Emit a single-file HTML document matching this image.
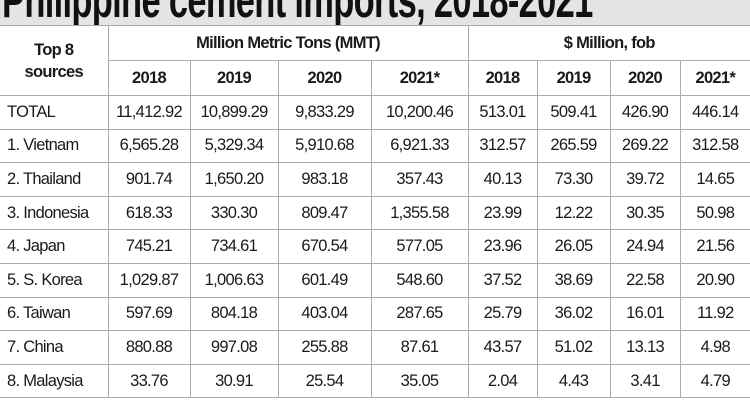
<!DOCTYPE html>
<html><head><meta charset="utf-8"><style>
body{margin:0;width:750px;height:410px;overflow:hidden;background:#fff;font-family:"Liberation Sans",sans-serif;color:#1a1a1a;position:relative}
.title{position:absolute;left:0;top:0;width:750px;height:25px;background:#e4e4e4;overflow:hidden;border-bottom:1px solid #999}
.title span{position:absolute;left:2px;top:-29px;font-size:50px;font-weight:bold;white-space:nowrap;color:#111;transform:scaleX(0.69);transform-origin:0 0;letter-spacing:-1px}
table{position:absolute;left:0;top:25px;border-collapse:collapse;table-layout:fixed;width:750px}
td{border:1px solid #aaa;text-align:center;font-size:16.5px;padding:0;height:32.6px;letter-spacing:-0.7px;white-space:nowrap}
tr.h td{font-weight:bold;height:34px;font-size:16.5px}
td.l{text-align:left;padding-left:7px}
table tr td:first-child{border-left:none}
table tr td:last-child{border-right:none}
</style></head><body>
<div class="title"><span>Philippine cement imports, 2018-2021</span></div>
<table>
<colgroup><col style="width:108px"><col style="width:82px"><col style="width:88px"><col style="width:93px"><col style="width:97px"><col style="width:69px"><col style="width:73px"><col style="width:70px"><col style="width:70px"></colgroup>
<tr class="h"><td rowspan="2" style="line-height:22px">Top 8<br>sources</td><td colspan="4">Million Metric Tons (MMT)</td><td colspan="4">$ Million, fob</td></tr>
<tr class="h"><td>2018</td><td>2019</td><td>2020</td><td>2021*</td><td>2018</td><td>2019</td><td>2020</td><td>2021*</td></tr>
<tr><td class="l">TOTAL</td><td>11,412.92</td><td>10,899.29</td><td>9,833.29</td><td>10,200.46</td><td>513.01</td><td>509.41</td><td>426.90</td><td>446.14</td></tr>
<tr><td class="l">1. Vietnam</td><td>6,565.28</td><td>5,329.34</td><td>5,910.68</td><td>6,921.33</td><td>312.57</td><td>265.59</td><td>269.22</td><td>312.58</td></tr>
<tr><td class="l">2. Thailand</td><td>901.74</td><td>1,650.20</td><td>983.18</td><td>357.43</td><td>40.13</td><td>73.30</td><td>39.72</td><td>14.65</td></tr>
<tr><td class="l">3. Indonesia</td><td>618.33</td><td>330.30</td><td>809.47</td><td>1,355.58</td><td>23.99</td><td>12.22</td><td>30.35</td><td>50.98</td></tr>
<tr><td class="l">4. Japan</td><td>745.21</td><td>734.61</td><td>670.54</td><td>577.05</td><td>23.96</td><td>26.05</td><td>24.94</td><td>21.56</td></tr>
<tr><td class="l">5. S. Korea</td><td>1,029.87</td><td>1,006.63</td><td>601.49</td><td>548.60</td><td>37.52</td><td>38.69</td><td>22.58</td><td>20.90</td></tr>
<tr><td class="l">6. Taiwan</td><td>597.69</td><td>804.18</td><td>403.04</td><td>287.65</td><td>25.79</td><td>36.02</td><td>16.01</td><td>11.92</td></tr>
<tr><td class="l">7. China</td><td>880.88</td><td>997.08</td><td>255.88</td><td>87.61</td><td>43.57</td><td>51.02</td><td>13.13</td><td>4.98</td></tr>
<tr><td class="l">8. Malaysia</td><td>33.76</td><td>30.91</td><td>25.54</td><td>35.05</td><td>2.04</td><td>4.43</td><td>3.41</td><td>4.79</td></tr>
</table>
</body></html>
